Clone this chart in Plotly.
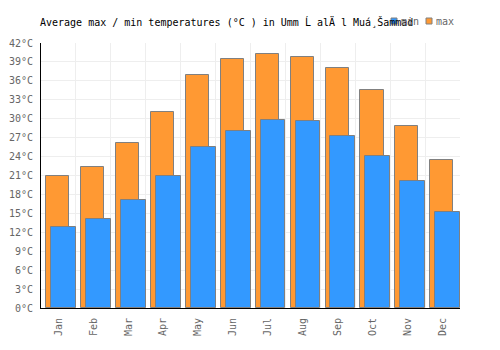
import plotly.graph_objects as go

months = ["Jan", "Feb", "Mar", "Apr", "May", "Jun", "Jul", "Aug", "Sep", "Oct", "Nov", "Dec"]
max_temp = [21.0, 22.3, 26.1, 31.0, 37.0, 39.4, 40.2, 39.8, 38.0, 34.5, 28.8, 23.4]
min_temp = [12.9, 14.1, 17.1, 21.0, 25.5, 28.1, 29.8, 29.7, 27.2, 24.1, 20.1, 15.2]
yticks = list(range(0, 43, 3))

title_text = "Average max / min temperatures (°C ) in Umm Ĺ alÄ l Muá¸Šammad"

FONT = "DejaVu Sans Mono"
W, H = 500, 350
MAX_COLOR = "#ff9933"
MIN_COLOR = "#3399ff"
xs = list(range(len(months)))

fig = go.Figure()
fig.add_trace(go.Bar(
    x=xs, y=max_temp, name="max", showlegend=False,
    marker=dict(color=MAX_COLOR, line=dict(color="#808080", width=1)),
    width=0.66, offset=-0.35,
))
fig.add_trace(go.Bar(
    x=xs, y=min_temp, name="min", showlegend=False,
    marker=dict(color=MIN_COLOR, line=dict(color="#808080", width=1)),
    width=0.71, offset=-0.21,
))

# manual legend (small squares + labels), positioned in container pixels
legend_items = [("min", MIN_COLOR, 391), ("max", MAX_COLOR, 426)]
shapes, annotations = [], []
for label, color, px in legend_items:
    shapes.append(dict(type="rect", xref="paper", yref="paper",
                       x0=(px - 41) / 419, x1=(px + 6 - 41) / 419,
                       y0=(308 - 24) / 265, y1=(308 - 18) / 265,
                       fillcolor=color, line=dict(color="#808080", width=1)))
    annotations.append(dict(text=label, xref="paper", yref="paper",
                            x=(px + 8 - 41) / 419, y=(308 - 21) / 265,
                            xanchor="left", yanchor="middle", showarrow=False,
                            font=dict(family=FONT, size=10, color="#666666")))

fig.update_layout(
    width=W, height=H,
    margin=dict(l=41, r=40, t=43, b=42, autoexpand=False),
    paper_bgcolor="white", plot_bgcolor="white",
    barmode="overlay",
    font=dict(family=FONT, size=10, color="#666666"),
    title=dict(text=title_text, x=40 / W, xanchor="left", xref="container",
               y=1 - 22 / H, yanchor="middle", yref="container",
               font=dict(family=FONT, size=10, color="black")),
    showlegend=False,
    shapes=shapes,
    annotations=annotations,
    bargap=0,
)
fig.update_xaxes(
    range=[-0.5, 11.5], tickmode="array", tickvals=xs, ticktext=months,
    tickangle=-90, showgrid=False,
    minor=dict(tickmode="array", tickvals=[i - 0.5 for i in range(13)],
               showgrid=True, gridcolor="#eeeeee", gridwidth=1, ticks=""),
    showline=True, linecolor="black", linewidth=1,
    ticks="outside", ticklen=5, tickcolor="rgba(0,0,0,0)",
    zeroline=False, fixedrange=True,
)
fig.update_yaxes(
    range=[0, 42], tickmode="array", tickvals=yticks,
    ticktext=[f"{v}°C" for v in yticks],
    showgrid=True, gridcolor="#eeeeee", gridwidth=1,
    showline=True, linecolor="black", linewidth=1,
    ticks="outside", ticklen=5, tickcolor="rgba(0,0,0,0)",
    zeroline=False, fixedrange=True,
)

fig.write_html("out.html")
